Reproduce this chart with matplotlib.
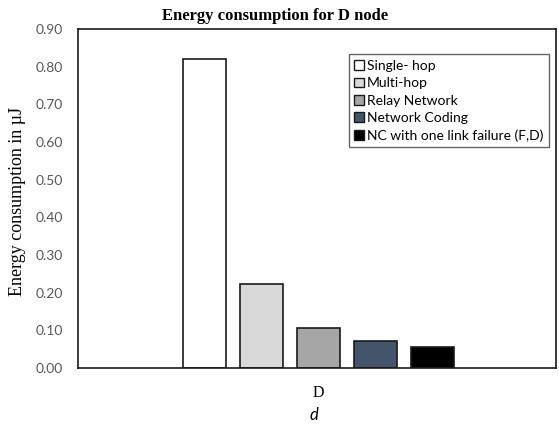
import matplotlib
matplotlib.use("Agg")
import matplotlib.pyplot as plt
from matplotlib.patches import Patch

series = ["Single- hop", "Multi-hop", "Relay Network", "Network Coding", "NC with one link failure (F,D)"]
values = [0.82, 0.223, 0.106, 0.072, 0.056]
colors = ["#ffffff", "#d9d9d9", "#a6a6a6", "#44546a", "#000000"]
yticks = [0.0, 0.1, 0.2, 0.3, 0.4, 0.5, 0.6, 0.7, 0.8, 0.9]
category = "D"

fig = plt.figure(figsize=(5.59, 4.25), dpi=100)
ax = fig.add_axes([0.1395, 0.1341, 0.855, 0.7977])

positions = list(range(len(values)))
for p, v, c, s in zip(positions, values, colors, series):
    ax.bar(p, v, width=0.76, color=c, edgecolor="#1a1a1a", linewidth=1.2, label=s)

ax.set_xlim(-2.22, 6.17)
ax.set_ylim(0, 0.9)
ax.set_yticks(yticks)
ax.set_yticklabels([f"{t:.2f}" for t in yticks], family="Lato", fontsize=10, color="#595959")
ax.tick_params(axis="y", length=0, pad=11)
ax.set_xticks([2])
ax.set_xticklabels([category], family="Liberation Serif", fontsize=11.5)
ax.tick_params(axis="x", length=0, pad=12)
for sp in ax.spines.values():
    sp.set_linewidth(1.2)
    sp.set_color("#1a1a1a")

fig.text(0.492, 0.962, "Energy consumption for D node", family="Liberation Serif",
         fontweight="bold", fontsize=12, ha="center", va="center")
fig.text(0.032, 0.525, "Energy consumption in µJ", family="Liberation Serif", fontsize=13,
         rotation=90, ha="center", va="center")
fig.text(0.553, 0.012, "d", family="Lato", style="italic", fontsize=12)

handles = [Patch(facecolor=c, edgecolor="#1a1a1a", linewidth=1.0) for c in colors]
leg = ax.legend(handles, series, loc="upper right", bbox_to_anchor=(0.985, 0.925),
                prop={"family": "Lato", "size": 10}, frameon=True, fancybox=False,
                handlelength=0.7, handleheight=0.7, handletextpad=0.2,
                labelspacing=0.38, borderpad=0.4, borderaxespad=0)
leg.get_frame().set_edgecolor("#404040")
leg.get_frame().set_linewidth(1.0)

fig.savefig("out.png", dpi=100)
